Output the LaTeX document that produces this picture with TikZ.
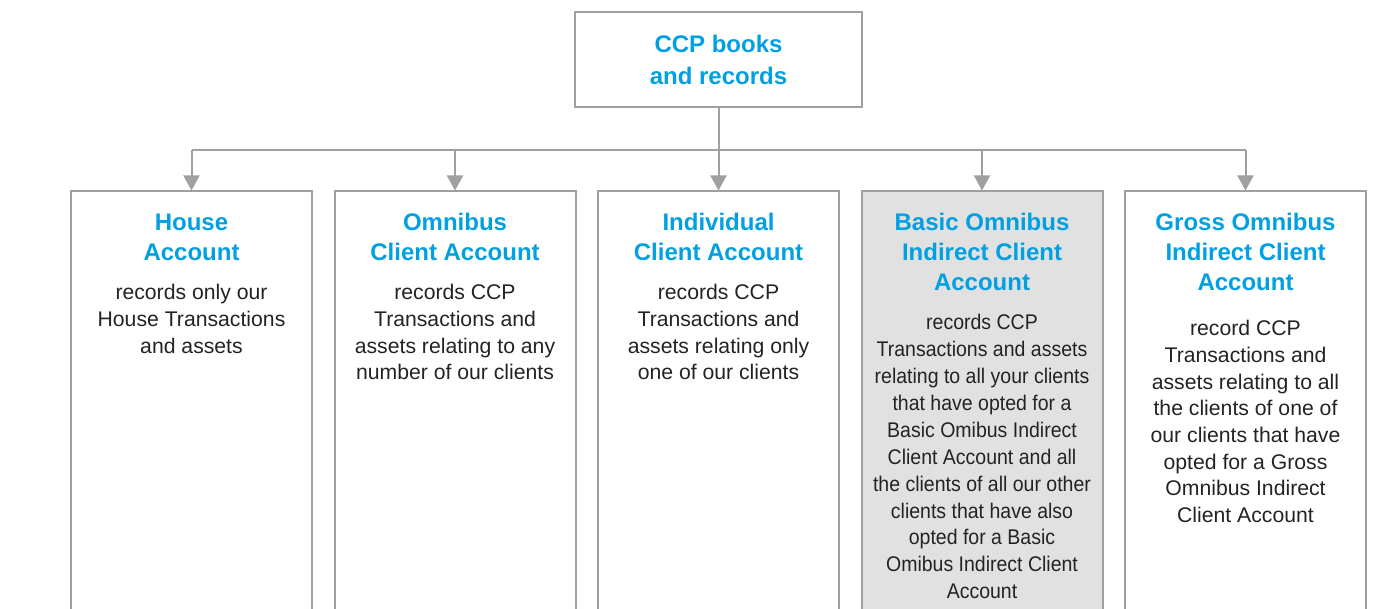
\documentclass[tikz,border=0pt]{standalone}
\usepackage{fontspec}
\setmainfont{Liberation Sans}
\newfontfamily\narrowsans[FakeStretch=0.92]{Liberation Sans}
\usetikzlibrary{arrows.meta}
\definecolor{ccpblue}{RGB}{0,160,226}
\definecolor{linegray}{RGB}{160,160,160}
\definecolor{shade}{RGB}{224,225,224}
\definecolor{bodytext}{RGB}{35,35,35}
\tikzset{
  acct/.style={draw=linegray, line width=1pt, minimum width=120.5pt, minimum height=230pt, anchor=north, inner sep=0pt},
  head/.style={text=ccpblue, font=\bfseries\fontsize{12}{15}\selectfont, align=center, anchor=north, inner sep=0pt},
  body/.style={text=bodytext, font=\fontsize{10.6}{13.35}\selectfont, align=center, anchor=north, inner sep=0pt},
  link/.style={draw=linegray, line width=1pt},
  tip/.style={link, -{Triangle[width=8pt,length=7.5pt]}}
}
\begin{document}
\begin{tikzpicture}[x=0.5pt,y=-0.5pt]
\useasboundingbox (0,0) rectangle (1376,609);
% top box
\node[draw=linegray, line width=1pt, minimum width=143.5pt, minimum height=47.5pt, inner sep=0pt] (ccp) at (718.5,59.5) {};
\node[head, font=\bfseries\fontsize{12}{16}\selectfont] (ccptitle) at (718.5,35) {CCP books\\and records};
% account boxes
\node[acct] (house) at (191.5,190.5) {};
\node[acct] (omni) at (455,190.5) {};
\node[acct] (indiv) at (718.5,190.5) {};
\node[acct, fill=shade] (basic) at (982,190.5) {};
\node[acct] (gross) at (1245.5,190.5) {};
% titles
\node[head] (housetitle) at (191.5,214) {House\\Account};
\node[head] (omnititle) at (455,213) {Omnibus\\Client Account};
\node[head] (indivtitle) at (718.5,213) {Individual\\Client Account};
\node[head] (basictitle) at (982,213) {Basic Omnibus\\Indirect Client\\Account};
\node[head] (grosstitle) at (1245.5,213) {Gross Omnibus\\Indirect Client\\Account};
% texts
\node[body] (housetext) at (191.5,284) {records only our\\House Transactions\\and assets};
\node[body] (omnitext) at (455,284) {records CCP\\Transactions and\\assets relating to any\\number of our clients};
\node[body] (indivtext) at (718.5,284) {records CCP\\Transactions and\\assets relating only\\one of our clients};
\node[body, font=\narrowsans\fontsize{10.6}{13.45}\selectfont] (basictext) at (982,314) {records CCP\\Transactions and assets\\relating to all your clients\\that have opted for a\\Basic Omibus Indirect\\Client Account and all\\the clients of all our other\\clients that have also\\opted for a Basic\\Omibus Indirect Client\\Account};
\node[body] (grosstext) at (1245.5,320) {record CCP\\Transactions and\\assets relating to all\\the clients of one of\\our clients that have\\opted for a Gross\\Omnibus Indirect\\Client Account};
% connectors
\draw[link] (ccp.south) -- ++(0,42) coordinate (split);
\draw[link] (house.north |- split) -- (gross.north |- split);
\draw[tip] (split) -- (indiv.north);
\foreach \acc in {house,omni,basic,gross}
  \draw[tip] (\acc.north |- split) -- (\acc.north);
\end{tikzpicture}
\end{document}
